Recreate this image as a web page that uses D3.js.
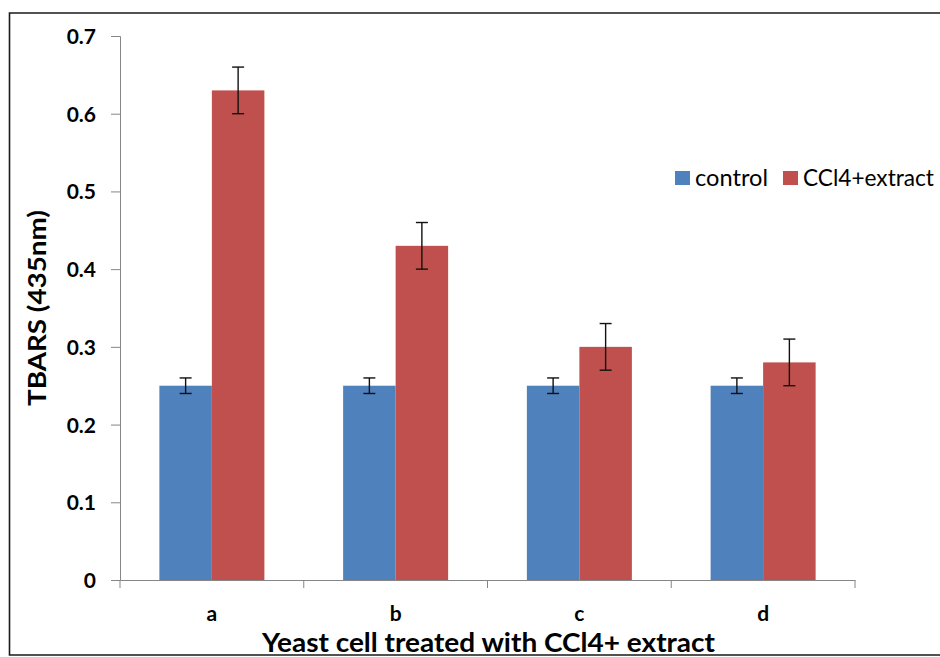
<!DOCTYPE html>
<html>
<head>
<meta charset="utf-8">
<title>TBARS</title>
<script src="https://cdn.jsdelivr.net/npm/d3@7"></script>
<style>
  body { margin: 0; background: #fff; }
  svg { display: block; }
</style>
</head>
<body>
<svg id="vizarea"></svg>
<script>
'use strict';

// chart values
const categories = ['a', 'b', 'c', 'd'];
const seriesNames = ['control', 'CCl4+extract'];
const controlValues = [0.25, 0.25, 0.25, 0.25];
const controlErrors = [0.01, 0.01, 0.01, 0.01];
const extractValues = [0.63, 0.43, 0.30, 0.28];
const extractErrors = [0.03, 0.03, 0.03, 0.03];
const yTicks = [0, 0.1, 0.2, 0.3, 0.4, 0.5, 0.6, 0.7];

(function() {
  window.addEventListener('load', init);

  /**
  * Draw the grouped bar chart once the window is loaded.
  */
  function init() {
    const width = 940;
    const height = 657;
    const margin = ({top: 36, right: 85, bottom: 77, left: 120});
    const colors = ['#4F81BD', '#C0504D'];
    const font = 'Lato, "Open Sans", sans-serif';

    const svg = d3.select('#vizarea')
                  .attr('width', width)
                  .attr('height', height);

    // frame round the chart (no right edge in the picture)
    svg.append('path')
       .attr('d', `M940,13 H9.5 V655 H940`)
       .attr('fill', 'none')
       .attr('stroke', '#1a1a1a')
       .attr('stroke-width', 1.6);

    const rows = categories.map((c, i) => ({
      cat: c,
      values: [
        {series: seriesNames[0], value: controlValues[i], err: controlErrors[i]},
        {series: seriesNames[1], value: extractValues[i], err: extractErrors[i]}
      ]
    }));

    const xScale = d3.scaleBand()
                     .domain(categories)
                     .range([margin.left, width - margin.right])
                     .padding(0);

    // Excel style gap width of 150%
    const xInner = d3.scaleBand()
                     .domain(seriesNames)
                     .range([0, xScale.bandwidth()])
                     .paddingInner(0)
                     .paddingOuter(0.75);

    const yScale = d3.scaleLinear()
                     .domain([0, 0.7])
                     .range([height - margin.bottom, margin.top]);

    const color = d3.scaleOrdinal().domain(seriesNames).range(colors);

    // Bars
    const groups = svg.append('g')
                      .selectAll('g')
                      .data(rows)
                      .join('g')
                      .attr('transform', d => `translate(${xScale(d.cat)},0)`);

    groups.selectAll('rect')
          .data(d => d.values)
          .join('rect')
          .attr('x', d => xInner(d.series))
          .attr('width', xInner.bandwidth())
          .attr('y', d => yScale(d.value))
          .attr('height', d => yScale(0) - yScale(d.value))
          .attr('fill', d => color(d.series));

    // Error bars
    const capHalf = 6;
    const err = groups.selectAll('g.err')
                      .data(d => d.values)
                      .join('g')
                      .attr('class', 'err')
                      .attr('stroke', '#111')
                      .attr('stroke-width', 1.4);
    err.append('line')
       .attr('x1', d => xInner(d.series) + xInner.bandwidth() / 2)
       .attr('x2', d => xInner(d.series) + xInner.bandwidth() / 2)
       .attr('y1', d => yScale(d.value - d.err))
       .attr('y2', d => yScale(d.value + d.err));
    err.append('line')
       .attr('x1', d => xInner(d.series) + xInner.bandwidth() / 2 - capHalf)
       .attr('x2', d => xInner(d.series) + xInner.bandwidth() / 2 + capHalf)
       .attr('y1', d => yScale(d.value + d.err))
       .attr('y2', d => yScale(d.value + d.err));
    err.append('line')
       .attr('x1', d => xInner(d.series) + xInner.bandwidth() / 2 - capHalf)
       .attr('x2', d => xInner(d.series) + xInner.bandwidth() / 2 + capHalf)
       .attr('y1', d => yScale(d.value - d.err))
       .attr('y2', d => yScale(d.value - d.err));

    // Y axis
    const yAxis = svg.append('g')
                     .attr('transform', `translate(${margin.left},0)`)
                     .call(d3.axisLeft(yScale)
                             .tickValues(yTicks)
                             .tickSize(9)
                             .tickPadding(15)
                             .tickFormat(d => d === 0 ? '0' : d3.format('.1f')(d)));
    yAxis.select('.domain').attr('stroke', '#868686');
    yAxis.selectAll('.tick line').attr('stroke', '#868686');
    yAxis.selectAll('.tick text')
         .attr('fill', '#000')
         .attr('font-family', font)
         .attr('font-weight', 'bold')
         .attr('font-size', 21)
         .attr('dy', '0.36em');

    // X axis, ticks sit on the category boundaries
    const xAxis = svg.append('g')
                     .attr('transform', `translate(0,${yScale(0)})`)
                     .call(d3.axisBottom(xScale).tickSize(0).tickPadding(26));
    xAxis.select('.domain').attr('stroke', '#868686');
    xAxis.selectAll('.tick text')
         .attr('fill', '#000')
         .attr('font-family', font)
         .attr('font-weight', 'bold')
         .attr('font-size', 21);
    const bounds = categories.map(c => xScale(c)).concat([xScale.range()[1]]);
    xAxis.selectAll('line.bound')
         .data(bounds)
         .join('line')
         .attr('class', 'bound')
         .attr('x1', d => d).attr('x2', d => d)
         .attr('y1', 0).attr('y2', 8)
         .attr('stroke', '#868686');

    // Axis titles
    svg.append('text')
       .attr('transform', `translate(46, ${(yScale(0) + yScale(0.7)) / 2}) rotate(-90)`)
       .attr('text-anchor', 'middle')
       .attr('font-family', font)
       .attr('font-weight', 'bold')
       .attr('font-size', 25)
       .attr('textLength', 196)
       .attr('lengthAdjust', 'spacingAndGlyphs')
       .text('TBARS (435nm)');

    svg.append('text')
       .attr('x', 488.5)
       .attr('y', 652)
       .attr('text-anchor', 'middle')
       .attr('font-family', font)
       .attr('font-weight', 'bold')
       .attr('font-size', 27)
       .attr('textLength', 453)
       .attr('lengthAdjust', 'spacingAndGlyphs')
       .text('Yeast cell treated with CCl4+ extract');

    // Legend
    const legendX = [675, 783];
    const legendW = [73, 131];
    const legend = svg.append('g')
                      .selectAll('g')
                      .data(seriesNames)
                      .join('g')
                      .attr('transform', (d, i) => `translate(${legendX[i]},171)`);
    legend.append('rect')
          .attr('width', 15)
          .attr('height', 14)
          .attr('fill', d => color(d));
    legend.append('text')
          .attr('x', 20)
          .attr('y', 15)
          .attr('font-family', font)
          .attr('font-size', 23)
          .attr('textLength', (d, i) => legendW[i])
          .attr('lengthAdjust', 'spacingAndGlyphs')
          .text(d => d);
  }
})();
</script>
</body>
</html>
